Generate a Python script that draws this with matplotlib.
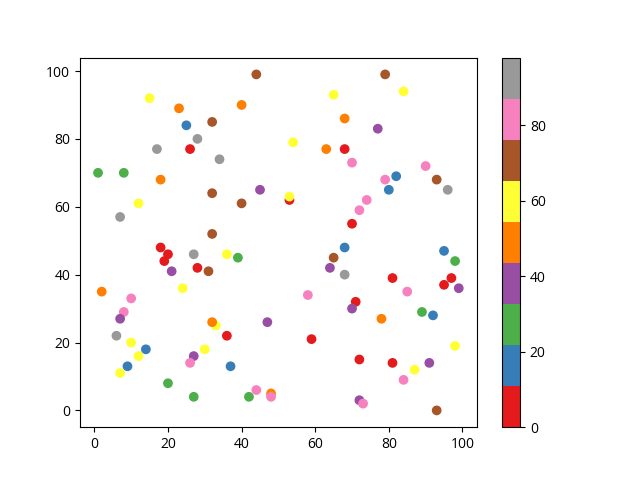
import numpy as np
import matplotlib
matplotlib.use('Agg')
import matplotlib.pyplot as plt

plt.rcParams['font.family'] = ['Open Sans', 'DejaVu Sans']

# colour value per point (Set1 colormap, range 0..98)
R, B, G, P, O, Y, BR, PK, GR = 0, 16, 27, 38, 49, 60, 71, 82, 98

x = [44, 15, 23, 40, 25, 32, 28, 17, 26, 34,
     1, 8, 18, 45, 32, 40, 12, 7, 32,
     79, 84, 65, 68, 77, 54, 63, 68, 70, 90,
     82, 79, 93, 80, 96, 74, 72, 53, 53, 70,
     18, 20, 19, 27, 36, 39, 28, 31, 21, 24,
     2, 10, 8, 7, 33, 32, 47, 6, 36, 10,
     14, 30, 12, 27, 26, 9, 7, 37, 20, 27,
     42, 44, 48, 48,
     68, 65, 64, 68, 95, 98, 81, 97, 95, 99,
     85, 58, 71, 70, 89, 92, 78, 59, 98, 72,
     81, 91, 87, 84, 72, 73, 93]
y = [99, 92, 89, 90, 84, 85, 80, 77, 77, 74,
     70, 70, 68, 65, 64, 61, 61, 57, 52,
     99, 94, 93, 86, 83, 79, 77, 77, 73, 72,
     69, 68, 68, 65, 65, 62, 59, 62, 63, 55,
     48, 46, 44, 46, 46, 45, 42, 41, 41, 36,
     35, 33, 29, 27, 25, 26, 26, 22, 22, 20,
     18, 18, 16, 16, 14, 13, 11, 13, 8, 4,
     4, 6, 5, 4,
     48, 45, 42, 40, 47, 44, 39, 39, 37, 36,
     35, 34, 32, 30, 29, 28, 27, 21, 19, 15,
     14, 14, 12, 9, 3, 2, 0]
c = [BR, Y, O, O, B, BR, GR, GR, R, GR,
     G, G, O, P, BR, BR, Y, GR, BR,
     BR, Y, Y, O, P, Y, O, R, PK, PK,
     B, PK, BR, B, GR, PK, PK, R, Y, R,
     R, R, R, GR, Y, G, R, BR, P, Y,
     O, PK, PK, P, Y, O, P, GR, R, Y,
     B, Y, Y, P, PK, B, Y, B, G, G,
     G, PK, O, PK,
     B, BR, P, GR, B, G, R, R, R, P,
     PK, PK, R, P, G, B, O, R, Y, R,
     R, P, Y, PK, P, PK, BR]

plt.scatter(x, y, c=c, cmap='Set1', vmin=0, vmax=98)
plt.colorbar()
plt.savefig('out.png')
